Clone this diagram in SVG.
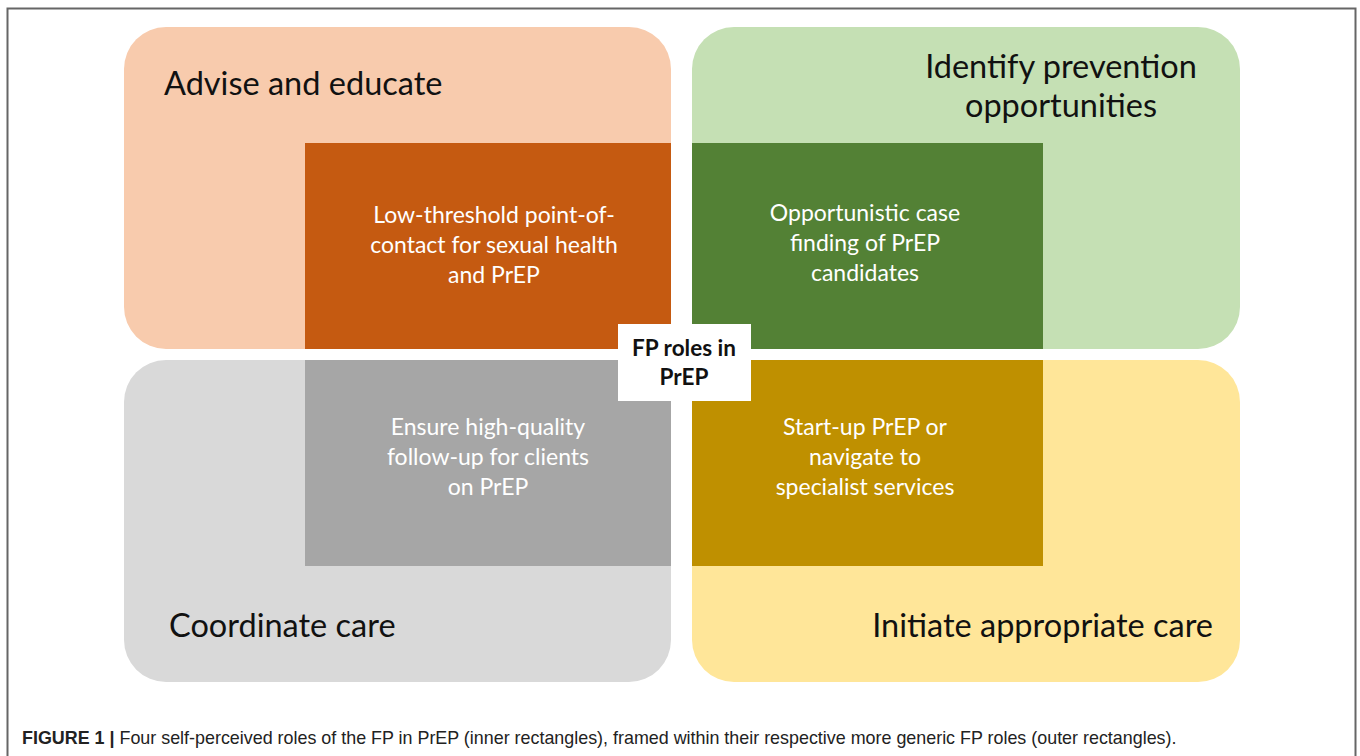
<svg xmlns="http://www.w3.org/2000/svg" width="1360" height="756" viewBox="0 0 1360 756">
<style>
.title{font-family:"Lato","Open Sans",sans-serif;font-size:32.5px;fill:#111}
.inner{font-family:"Lato","Open Sans",sans-serif;font-size:23px;fill:#fff;text-anchor:middle}
.center{font-family:"Lato","Open Sans",sans-serif;font-size:22.5px;font-weight:bold;fill:#111;text-anchor:middle}
.cap{font-family:"Liberation Sans",Arial,sans-serif;font-size:17.9px;fill:#222}
</style>
<rect width="1360" height="756" fill="#fff"/>
<path d="M7.5 756 V8.5 H1355.5 V756" fill="none" stroke="#666" stroke-width="2"/>
<g id="advise">
<rect x="124" y="27" width="547" height="322" rx="42" fill="#F8CBAD"/>
<text class="title" x="164" y="95">Advise and educate</text>
</g>
<g id="identify">
<rect x="692" y="27" width="548" height="322" rx="42" fill="#C5E0B4"/>
<text class="title" x="1061" y="78" text-anchor="middle">Identify prevention</text>
<text class="title" x="1061" y="117" text-anchor="middle">opportunities</text>
</g>
<g id="coordinate">
<rect x="124" y="360" width="547" height="322" rx="42" fill="#D9D9D9"/>
<text class="title" x="169" y="637">Coordinate care</text>
</g>
<g id="initiate">
<rect x="692" y="360" width="548" height="322" rx="42" fill="#FFE699"/>
<text class="title" x="1213" y="637" text-anchor="end">Initiate appropriate care</text>
</g>
<g id="low-threshold">
<rect x="305" y="143" width="366" height="206" fill="#C55A11"/>
<text class="inner" x="494" y="223">Low-threshold point-of-</text>
<text class="inner" x="494" y="253">contact for sexual health</text>
<text class="inner" x="494" y="283">and PrEP</text>
</g>
<g id="opportunistic">
<rect x="692" y="143" width="351" height="206" fill="#538135"/>
<text class="inner" x="865" y="221">Opportunistic case</text>
<text class="inner" x="865" y="251">finding of PrEP</text>
<text class="inner" x="865" y="281">candidates</text>
</g>
<g id="ensure">
<rect x="305" y="360" width="366" height="206" fill="#A6A6A6"/>
<text class="inner" x="488" y="435">Ensure high-quality</text>
<text class="inner" x="488" y="465">follow-up for clients</text>
<text class="inner" x="488" y="495">on PrEP</text>
</g>
<g id="startup">
<rect x="692" y="360" width="351" height="206" fill="#BF9000"/>
<text class="inner" x="865" y="435">Start-up PrEP or</text>
<text class="inner" x="865" y="465">navigate to</text>
<text class="inner" x="865" y="495">specialist services</text>
</g>
<g id="fp-roles">
<rect x="618" y="324" width="133" height="77" fill="#fff"/>
<text class="center" x="684" y="356">FP roles in</text>
<text class="center" x="684" y="385">PrEP</text>
</g>
<g id="connectors"></g>
<text class="cap" x="22" y="744"><tspan font-weight="bold">FIGURE 1 |</tspan> Four self-perceived roles of the FP in PrEP (inner rectangles), framed within their respective more generic FP roles (outer rectangles).</text>
</svg>
